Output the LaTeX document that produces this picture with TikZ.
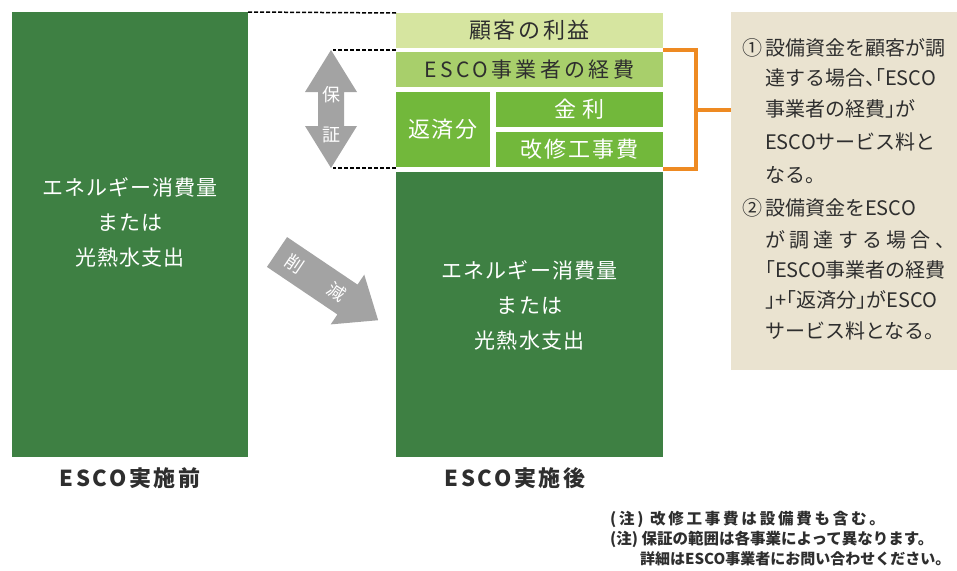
\documentclass[tikz,border=0pt]{standalone}
\usepackage{fontspec}
\setmainfont{Noto Sans CJK JP}
\usetikzlibrary{calc}
\definecolor{dkgreen}{HTML}{3E8043}
\definecolor{ltgreen}{HTML}{D6E5A0}
\definecolor{mdgreen}{HTML}{A8CF6B}
\definecolor{brgreen}{HTML}{72B83B}
\definecolor{arrgray}{HTML}{A3A3A3}
\definecolor{orng}{HTML}{EE8A22}
\definecolor{beige}{HTML}{EAE3D0}
\definecolor{txtdark}{HTML}{2E2E2E}
\newcommand{\lsp}[1]{\addfontfeature{LetterSpace=#1}}
\begin{document}
\begin{tikzpicture}[x=1pt,y=-1pt,
  blk/.style={inner sep=0pt, outer sep=0pt, draw=none, anchor=north west},
  wtxt/.style={inner sep=0pt, text=white, align=center},
  dtxt/.style={inner sep=0pt, text=txtdark, align=center},
  dashline/.style={black, line width=1.5pt, dash pattern=on 4pt off 2pt},
  bracket/.style={orng, line width=4pt},
  notetxt/.style={inner sep=0pt, anchor=west, text=txtdark, font=\fontsize{20}{22}\selectfont\addfontfeature{RawFeature=+halt}},
  foot/.style={inner sep=0pt, anchor=west, text=txtdark},
  label/.style={inner sep=0pt, text=txtdark, font=\bfseries\fontsize{22}{24}\selectfont\lsp{12}},
]
\useasboundingbox (0,0) rectangle (957,570);

% left column
\node[blk, fill=dkgreen, minimum width=236pt, minimum height=445pt] (before) at (12,12) {};
\node[wtxt, font=\fontsize{21}{35}\selectfont\lsp{5}] (beforetxt) at (130,222) {エネルギー消費量\\または\\光熱水支出};
\node[label] (beforelbl) at (130,478) {ESCO実施前};

% right column
\node[blk, fill=ltgreen, minimum width=267pt, minimum height=35pt, font=\fontsize{22}{24}\selectfont\lsp{12}, text=txtdark] (gain) at (396,13) {顧客の利益};
\node[blk, fill=mdgreen, minimum width=267pt, minimum height=35pt, font=\fontsize{21}{24}\selectfont\lsp{16}, text=txtdark] (cost) at (396,52) {ESCO事業者の経費};
\node[blk, fill=brgreen, minimum width=94pt, minimum height=75pt, font=\fontsize{22}{24}\selectfont\lsp{6}, text=white] (hensai) at (396,92) {返済分};
\node[blk, fill=brgreen, minimum width=167pt, minimum height=35pt, font=\fontsize{22}{24}\selectfont\lsp{25}, text=white] (kinri) at (496,92) {金利};
\node[blk, fill=brgreen, minimum width=167pt, minimum height=35pt, font=\fontsize{22}{24}\selectfont\lsp{10}, text=white] (kaishu) at (496,132) {改修工事費};
\node[blk, fill=dkgreen, minimum width=267pt, minimum height=285pt] (after) at (396,172) {};
\node[wtxt, font=\fontsize{21}{35}\selectfont\lsp{5}] (aftertxt) at (529.5,305) {エネルギー消費量\\または\\光熱水支出};
\node[label] (afterlbl) at (515,478) {ESCO実施後};

% dashed guide lines
\draw[dashline] (before.north east) -- (gain.north west);
\draw[dashline] ([yshift=2pt]cost.north west) -- ++(-63,0) coordinate (d2);
\draw[dashline] ([yshift=-1pt]hensai.south west) -- ++(-63,0) coordinate (d3);

% guarantee double arrow
\fill[arrgray] (331,50) -- (357,92) -- (344,92) -- (344,126) -- (357,126) -- (331,168)
  -- (305,126) -- (318,126) -- (318,92) -- (305,92) -- cycle;
\node[wtxt, font=\fontsize{18}{20}\selectfont] (ho) at (331,95) {保};
\node[wtxt, font=\fontsize{18}{20}\selectfont] (sho) at (331,135) {証};

% reduction arrow
\begin{scope}[shift={(277,252)}, rotate=-34]
  \fill[arrgray] (0,-18) -- (85,-18) -- (85,-30) -- (122,0) -- (85,30) -- (85,18) -- (0,18) -- cycle;
  \node[wtxt, rotate=-34, font=\fontsize{18}{20}\selectfont] (saku) at (22,0) {削};
  \node[wtxt, rotate=-34, font=\fontsize{18}{20}\selectfont] (gen) at (72,0) {減};
\end{scope}

% note box
\node[blk, fill=beige, minimum width=226pt, minimum height=358pt] (note) at (731,12) {};
\draw[bracket] ([yshift=2pt]cost.north east) -- ++(33,0) coordinate (bt) |- ([yshift=-2pt]kaishu.south east);
\coordinate (bm) at (696,110);
\draw[bracket] ([xshift=-2pt]bm) -- (bm -| note.west);

\node[notetxt] (n1a) at (742,48) {①};
\node[notetxt] (n1) at (765,48) {設備資金を顧客が調};
\node[notetxt] (n2) at (765,78) {達する場合、「ESCO};
\node[notetxt] (n3) at (765,109) {事業者の経費」が};
\node[notetxt] (n4) at (765,142) {ESCOサービス料と};
\node[notetxt] (n5) at (765,175) {なる。};
\node[notetxt] (n6a) at (742,208) {②};
\node[notetxt] (n6) at (765,208) {設備資金をESCO};
\node[notetxt] (n7) at (765,240) {\makebox[180pt][s]{が\hfill 調\hfill 達\hfill す\hfill る\hfill 場\hfill 合\hfill 、}};
\node[notetxt] (n8) at (765,270) {「ESCO事業者の経費};
\node[notetxt] (n9) at (765,300) {」+「返済分」がESCO};
\node[notetxt] (n10) at (765,331) {サービス料となる。};

% footnotes
\node[foot, font=\bfseries\fontsize{15.5}{17}\selectfont\lsp{18}] (f1) at (610,519) {(注) 改修工事費は設備費も含む。};
\node[foot, font=\bfseries\fontsize{15.5}{17}\selectfont] (f2) at (610,539) {(注) 保証の範囲は各事業によって異なります。};
\node[foot, font=\bfseries\fontsize{15}{17}\selectfont] (f3) at (640,559) {詳細はESCO事業者にお問い合わせください。};
\end{tikzpicture}
\end{document}
